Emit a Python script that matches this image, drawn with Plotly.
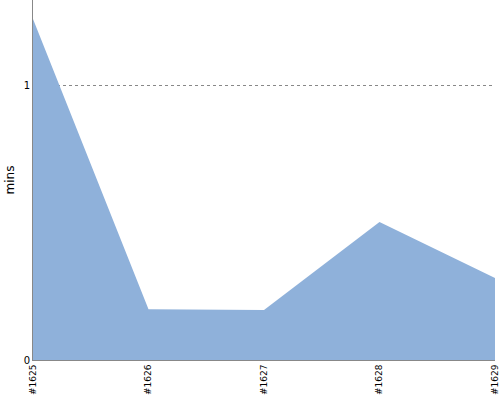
import plotly.graph_objects as go

builds = ["#1625", "#1626", "#1627", "#1628", "#1629"]
mins = [1.24, 0.185, 0.182, 0.502, 0.298]

fig = go.Figure()
fig.add_trace(go.Scatter(
    x=list(range(len(builds))), y=mins, mode="lines", fill="tozeroy",
    line=dict(width=0, color="#8fb1da"), fillcolor="#8fb1da", hoverinfo="skip",
))
fig.update_layout(
    width=500, height=400, margin=dict(l=33, r=5, t=0, b=40, autoexpand=False),
    paper_bgcolor="white", plot_bgcolor="white", showlegend=False,
    font=dict(family="DejaVu Sans", color="black"),
)
fig.update_xaxes(
    range=[0, 4], tickmode="array", tickvals=list(range(len(builds))), ticktext=builds,
    tickangle=-90, tickfont=dict(size=9), showgrid=False, zeroline=False,
    showline=True, linecolor="#888", linewidth=1, ticks="", ticklen=0, automargin=False,
)
fig.update_yaxes(
    range=[0, 360 / 275], tickmode="array", tickvals=[0, 1], ticktext=["0", "1"],
    tickfont=dict(size=10), showgrid=True, gridcolor="#888", griddash="dot", gridwidth=1,
    zeroline=False, showline=True, linecolor="#888", linewidth=1, automargin=False,
    title=dict(text="mins", font=dict(size=12), standoff=6),
)
fig.write_html("out.html", config={"displayModeBar": False},
               post_script="document.body.style.margin='0';")
